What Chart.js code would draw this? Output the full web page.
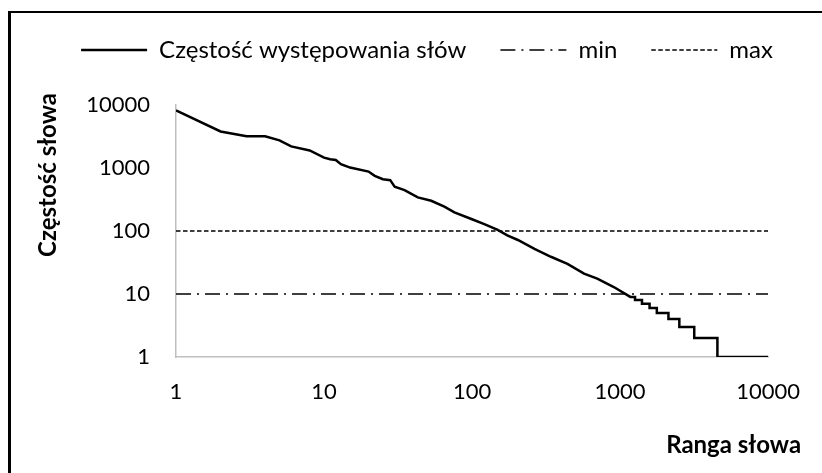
<!DOCTYPE html>
<html>
<head>
<meta charset="utf-8">
<script src="https://cdn.jsdelivr.net/npm/chart.js@4"></script>
<style>
  html, body { margin: 0; padding: 0; background: #fff; }
  body { width: 822px; height: 473px; position: relative; overflow: hidden; }
  #frame { position: absolute; left: 8px; top: 11px; width: 900px; height: 600px;
           border-left: 3px solid #000; border-top: 2px solid #000; }
  #wrap { position: absolute; left: 32px; top: 0; width: 790px; height: 473px; }
</style>
</head>
<body>
<div id="frame"></div>
<div id="wrap"><canvas id="chart"></canvas></div>
<script>
// word rank vs. word frequency (log-log)
const ranks = [1, 2, 3, 4, 5, 6, 8, 10, 11, 12, 13, 15, 20, 22, 25, 28, 30, 35,
    43, 53, 65, 76, 99, 121, 149, 173, 204, 264, 341, 441, 571, 701, 907, 1173,
    1262, 1262, 1406, 1406, 1582, 1582, 1771, 1771, 2122, 2122, 2514, 2514,
    3170, 3170, 4545, 4545, 10000];
const freqs = [8200, 3800, 3200, 3200, 2750, 2200, 1900, 1460, 1380, 1340, 1150,
    1015, 877, 750, 665, 641, 503, 446, 341, 302, 243, 198, 155, 129, 104, 85,
    72, 52, 39, 30, 21, 17.5, 12.9, 9, 9, 8, 8, 7, 7, 6, 6, 5, 5, 4, 4, 3, 3,
    2, 2, 1, 1];
const minLevel = 10;
const maxLevel = 100;
const levelRanks = [1, 10000];
const xTicks = [1, 10, 100, 1000, 10000];
const yTicks = [1, 10, 100, 1000, 10000];
const seriesNames = ["Częstość występowania słów", "min", "max"];
const xTitle = "Ranga słowa";
const yTitle = "Częstość słowa";

const FONT = "Lato";
const legendHeight = 101;

// legend: one row across the whole canvas, and a gap below it down to the plot
const legendGap = {
    id: "legendGap",
    beforeLayout(chart) {
        const lg = chart.legend;
        if (!lg || lg._gapPatched) return;
        const fit = lg.fit;
        lg.fit = function () {
            this.maxWidth = chart.width;
            fit.call(this);
            this.height = legendHeight;
        };
        const draw = lg.draw;
        lg.draw = function () {
            const l = this.left, r = this.right;
            this.left = 0;
            this.right = chart.width;
            draw.call(this);
            this.left = l;
            this.right = r;
        };
        lg._gapPatched = true;
    },
};

// axis titles sit off-centre like in the original sheet
const axisTitles = {
    id: "axisTitles",
    afterDraw(chart) {
        const { ctx, chartArea } = chart;
        ctx.save();
        ctx.fillStyle = "#000";
        ctx.font = `bold 24px ${FONT}`;
        ctx.textBaseline = "middle";
        ctx.textAlign = "right";
        ctx.fillText(xTitle, chartArea.right + 33, chartArea.bottom + 88);
        ctx.translate(chartArea.left - 128, chartArea.top + 70);
        ctx.rotate(-Math.PI / 2);
        ctx.textAlign = "center";
        ctx.fillText(yTitle, 0, 0);
        ctx.restore();
    },
};

const logAxis = (tickValues, padding, fitFn) => ({
    type: "logarithmic",
    min: tickValues[0],
    max: tickValues[tickValues.length - 1],
    afterBuildTicks: (scale) => {
        scale.ticks = tickValues.map((v) => ({ value: v }));
    },
    afterFit: fitFn,
    grid: { display: false, drawTicks: false },
    border: { color: "#bfbfbf", width: 1.5 },
    ticks: {
        color: "#000",
        padding: padding,
        autoSkip: false,
        maxRotation: 0,
        font: { family: FONT, size: 22 },
        callback: (v) => String(v),
    },
});

new Chart(document.getElementById("chart"), {
    type: "line",
    data: {
        datasets: [
            {
                label: seriesNames[0],
                data: ranks.map((r, i) => ({ x: r, y: freqs[i] })),
                borderColor: "#000",
                backgroundColor: "#000",
                borderWidth: 2.5,
                pointRadius: 0,
                tension: 0,
            },
            {
                label: seriesNames[1],
                data: levelRanks.map((r) => ({ x: r, y: minLevel })),
                borderColor: "#000",
                backgroundColor: "#000",
                borderWidth: 1.5,
                borderDash: [15, 6, 2, 6],
                pointRadius: 0,
            },
            {
                label: seriesNames[2],
                data: levelRanks.map((r) => ({ x: r, y: maxLevel })),
                borderColor: "#000",
                backgroundColor: "#000",
                borderWidth: 1.5,
                borderDash: [4.5, 2.5],
                pointRadius: 0,
            },
        ],
    },
    options: {
        responsive: true,
        maintainAspectRatio: false,
        animation: false,
        layout: { padding: { left: 50, right: 50, top: 4, bottom: 0 } },
        plugins: {
            legend: {
                labels: {
                    usePointStyle: true,
                    pointStyle: "line",
                    pointStyleWidth: 66,
                    color: "#000",
                    padding: 34,
                    font: { family: FONT, size: 24 },
                    generateLabels: (chart) => {
                        const items = Chart.defaults.plugins.legend.labels.generateLabels(chart);
                        items.forEach((it) => {
                            const ds = chart.data.datasets[it.datasetIndex];
                            it.lineDash = ds.borderDash || [];
                            it.lineWidth = ds.borderWidth;
                            it.strokeStyle = ds.borderColor;
                        });
                        return items;
                    },
                },
            },
            tooltip: { enabled: false },
        },
        scales: {
            x: logAxis(xTicks, 22, (s) => { s.height = 116; }),
            y: logAxis(yTicks, 26, (s) => { s.width = 94; }),
        },
    },
    plugins: [legendGap, axisTitles],
});
</script>
</body>
</html>
